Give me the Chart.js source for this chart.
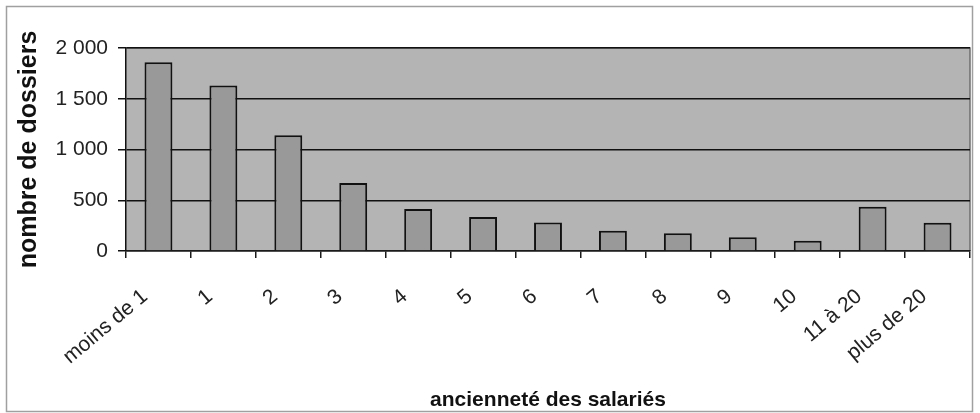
<!DOCTYPE html>
<html>
<head>
<meta charset="utf-8">
<script src="https://cdn.jsdelivr.net/npm/chart.js@4"></script>
<style>
  body { margin: 0; background: #fff; }
  #wrap { width: 980px; height: 413px; position: relative; }
</style>
</head>
<body>
<div id="wrap"><canvas id="chart"></canvas></div>
<script>
// anciennete des salaries -> nombre de dossiers

var categories = ['moins de 1', '1', '2', '3', '4', '5', '6', '7', '8', '9', '10', '11 à 20', 'plus de 20']
var dossiers = [1860, 1630, 1140, 670, 415, 335, 280, 200, 175, 135, 100, 435, 278]
var yTicks = [0, 500, 1000, 1500, 2000]
var yTickLabels = ['0', '500', '1 000', '1 500', '2 000']

const FONT = "'Liberation Sans', Arial, sans-serif"

// grey plot background + frame round the whole picture
const backdrop = {
    id: 'backdrop',
    beforeDraw(chart) {
        const ctx = chart.ctx
        const a = chart.chartArea
        ctx.save()
        ctx.fillStyle = '#b4b4b4'
        ctx.fillRect(a.left, a.top, a.right - a.left, a.bottom - a.top)
        ctx.strokeStyle = '#6e6e6e'
        ctx.lineWidth = 1.5
        ctx.beginPath()
        ctx.moveTo(a.left, a.top)
        ctx.lineTo(a.right, a.top)
        ctx.lineTo(a.right, a.bottom)
        ctx.stroke()
        ctx.restore()
    },
    afterDraw(chart) {
        const ctx = chart.ctx
        ctx.save()
        ctx.strokeStyle = '#a0a0a0'
        ctx.lineWidth = 1.5
        ctx.strokeRect(6.5, 6.5, 966, 405)
        ctx.restore()
    }
}

new Chart(document.getElementById('chart'), {
    type: 'bar',
    data: {
        labels: categories,
        datasets: [{
            data: dossiers,
            backgroundColor: '#999999',
            borderColor: '#111',
            borderWidth: 2,
            categoryPercentage: 1,
            barPercentage: 0.43
        }]
    },
    options: {
        responsive: true,
        maintainAspectRatio: false,
        animation: false,
        layout: { padding: { left: 8, right: 10, top: 48, bottom: 0 } },
        plugins: {
            legend: { display: false },
            tooltip: { enabled: false }
        },
        scales: {
            x: {
                afterFit: s => { s.height = 162 },
                grid: {
                    offset: true,
                    drawOnChartArea: false,
                    color: '#1a1a1a',
                    lineWidth: 1.5,
                    tickLength: 7
                },
                border: { color: '#1a1a1a', width: 1.5 },
                ticks: {
                    color: '#222',
                    font: { family: FONT, size: 21 },
                    minRotation: 40,
                    maxRotation: 40,
                    padding: 15,
                    autoSkip: false,
                    // trailing spaces nudge the slanted labels down-left like the original
                    callback: function (v) { return this.getLabelForValue(v) + '   ' }
                },
                title: {
                    display: true,
                    text: 'ancienneté des salariés',
                    color: '#111',
                    font: { family: FONT, size: 21, weight: 'bold', lineHeight: 1.2 },
                    padding: { top: 0, bottom: 0 }
                }
            },
            y: {
                min: 0,
                max: 2000,
                afterFit: s => { s.width = 118 },
                afterBuildTicks: s => { s.ticks = yTicks.map(v => ({ value: v })) },
                grid: {
                    color: '#111',
                    lineWidth: 1.5,
                    tickLength: 8
                },
                border: { color: '#111', width: 1.5 },
                ticks: {
                    color: '#222',
                    font: { family: FONT, size: 21 },
                    padding: 10,
                    callback: (v, i) => yTickLabels[yTicks.indexOf(v)]
                },
                title: {
                    display: true,
                    text: 'nombre de dossiers',
                    color: '#111',
                    font: { family: FONT, size: 25, weight: 'bold', lineHeight: 1.2 },
                    padding: { top: 6, bottom: 0 }
                }
            }
        }
    },
    plugins: [backdrop]
})
</script>
</body>
</html>
